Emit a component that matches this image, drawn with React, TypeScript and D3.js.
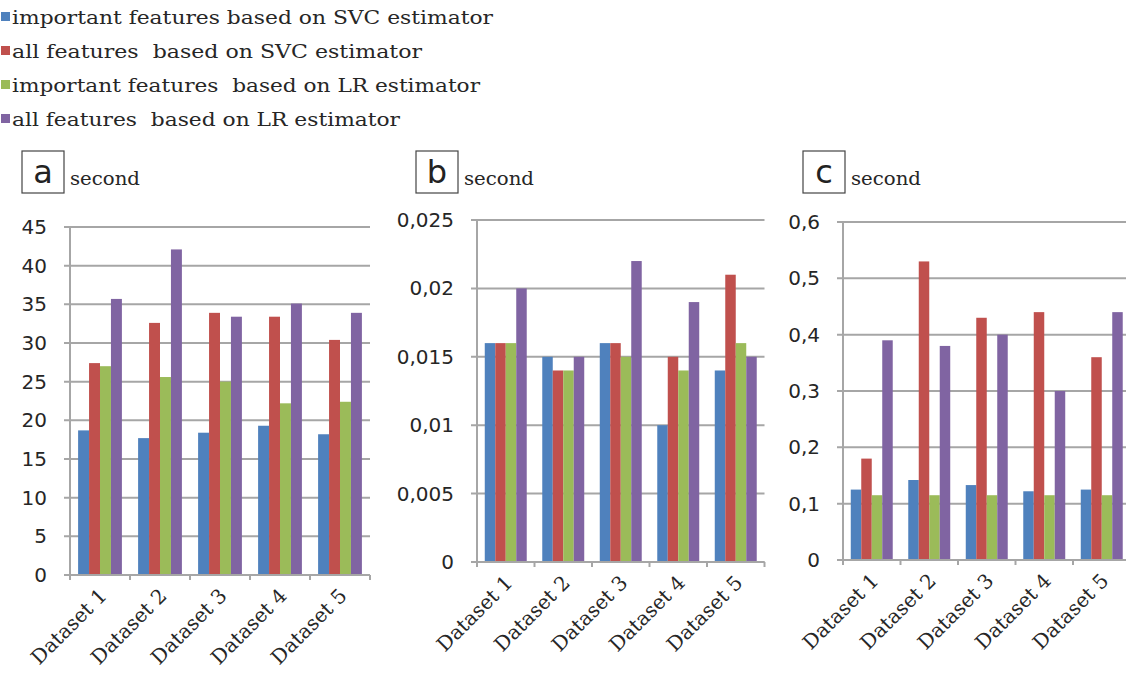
import React from "react";
import * as d3 from "d3";

const categories = ["Dataset 1", "Dataset 2", "Dataset 3", "Dataset 4", "Dataset 5"];
const seriesNames = [
  "important features based on SVC estimator",
  "all features  based on SVC estimator",
  "important features  based on LR estimator",
  "all features  based on LR estimator",
];
const seriesColors = ["#4F81BD", "#C0504D", "#9BBB59", "#8064A2"];

// Panel a
const aImportantSVC = [18.7, 17.7, 18.4, 19.3, 18.2];
const aAllSVC = [27.4, 32.6, 33.9, 33.4, 30.4];
const aImportantLR = [27.0, 25.6, 25.0, 22.2, 22.4];
const aAllLR = [35.7, 42.1, 33.4, 35.1, 33.9];
const aTicks = [0, 5, 10, 15, 20, 25, 30, 35, 40, 45];
const aTickLabels = ["0", "5", "10", "15", "20", "25", "30", "35", "40", "45"];

// Panel b
const bImportantSVC = [0.016, 0.015, 0.016, 0.01, 0.014];
const bAllSVC = [0.016, 0.014, 0.016, 0.015, 0.021];
const bImportantLR = [0.016, 0.014, 0.015, 0.014, 0.016];
const bAllLR = [0.02, 0.015, 0.022, 0.019, 0.015];
const bTicks = [0, 0.005, 0.01, 0.015, 0.02, 0.025];
const bTickLabels = ["0", "0,005", "0,01", "0,015", "0,02", "0,025"];

// Panel c
const cImportantSVC = [0.125, 0.142, 0.133, 0.122, 0.125];
const cAllSVC = [0.18, 0.53, 0.43, 0.44, 0.36];
const cImportantLR = [0.115, 0.115, 0.115, 0.115, 0.115];
const cAllLR = [0.39, 0.38, 0.4, 0.3, 0.44];
const cTicks = [0, 0.1, 0.2, 0.3, 0.4, 0.5, 0.6];
const cTickLabels = ["0", "0,1", "0,2", "0,3", "0,4", "0,5", "0,6"];

const panels = [
  { letter: "a", series: [aImportantSVC, aAllSVC, aImportantLR, aAllLR], ticks: aTicks, labels: aTickLabels,
    x0: 70, x1: 370, yTop: 227, yBot: 575, box: [22, 151] },
  { letter: "b", series: [bImportantSVC, bAllSVC, bImportantLR, bAllLR], ticks: bTicks, labels: bTickLabels,
    x0: 477, x1: 764.5, yTop: 220, yBot: 562, box: [416, 151] },
  { letter: "c", series: [cImportantSVC, cAllSVC, cImportantLR, cAllLR], ticks: cTicks, labels: cTickLabels,
    x0: 843, x1: 1130.5, yTop: 222, yBot: 560, box: [803, 151] },
];

const SERIF = "'DejaVu Serif', 'Liberation Serif', serif";
const SANS = "'DejaVu Sans', 'Open Sans', sans-serif";
const GRID = "#a6a6a6";
const TXT = "#262626";

function Panel({ p }: { p: any }) {
  const x = d3.scaleBand<string>().domain(categories).range([p.x0, p.x1]).paddingInner(0.27).paddingOuter(0.135);
  const inner = d3.scaleBand<number>().domain([0, 1, 2, 3]).range([0, x.bandwidth()]);
  const y = d3.scaleLinear().domain([0, p.ticks[p.ticks.length - 1]]).range([p.yBot, p.yTop]);
  const step = x.step();
  const bounds = d3.range(categories.length + 1).map((i) => p.x0 + i * step);
  return (
    <g>
      {p.ticks.map((t: number, i: number) => (
        <g key={"g" + i}>
          <line x1={p.x0 - 6} x2={p.x1} y1={y(t)} y2={y(t)} stroke={GRID} strokeWidth={2} />
          <text x={p.x0 - 23} y={y(t)} dy="0.35em" textAnchor="end" fontFamily={SANS} fontSize={20} fill={TXT}>
            {p.labels[i]}
          </text>
        </g>
      ))}
      {p.series.map((vals: number[], si: number) =>
        vals.map((v: number, ci: number) => (
          <rect
            key={si + "-" + ci}
            x={(x(categories[ci]) as number) + (inner(si) as number)}
            y={y(v)}
            width={inner.bandwidth()}
            height={p.yBot - y(v)}
            fill={seriesColors[si]}
          />
        ))
      )}
      <line x1={p.x0} x2={p.x0} y1={p.yTop} y2={p.yBot} stroke={GRID} strokeWidth={2} />
      <line x1={p.x0} x2={p.x1} y1={p.yBot} y2={p.yBot} stroke={GRID} strokeWidth={2} />
      {bounds.map((bx: number, i: number) => (
        <line key={"t" + i} x1={bx} x2={bx} y1={p.yBot} y2={p.yBot + 5} stroke={GRID} strokeWidth={2} />
      ))}
      {categories.map((c: string) => {
        const cx = (x(c) as number) + x.bandwidth() / 2;
        return (
          <text key={c} transform={`translate(${cx + 8},${p.yBot + 22}) rotate(-45)`} textAnchor="end"
            fontFamily={SERIF} fontSize={20} fill={TXT}>
            {c}
          </text>
        );
      })}
      <rect x={p.box[0]} y={p.box[1]} width={42} height={42} fill="none" stroke="#444" strokeWidth={1.2} />
      <text x={p.box[0] + 21} y={p.box[1] + 32} textAnchor="middle" fontFamily={SANS} fontSize={32} fill="#222">
        {p.letter}
      </text>
      <text x={p.box[0] + 48} y={p.box[1] + 34} fontFamily={SERIF} fontSize={18} fill={TXT}
        textLength={70} lengthAdjust="spacingAndGlyphs">
        second
      </text>
    </g>
  );
}

export default function App() {
  const legendY = [17, 51, 85, 119];
  const legendW = [481, 410, 468, 388];
  return (
    <div style={{ position: "absolute", left: 0, top: 0 }}>
      <svg width={1126} height={679} style={{ display: "block", background: "#fff" }}>
        <rect width={1126} height={679} fill="#fff" />
        {seriesNames.map((n, i) => (
          <g key={n}>
            <rect x={1} y={legendY[i] - 5} width={9} height={9} fill={seriesColors[i]} />
            <text x={12} y={legendY[i]} dy="0.35em" fontFamily={SERIF} fontSize={19} fill={TXT}
              textLength={legendW[i]} lengthAdjust="spacingAndGlyphs" style={{ whiteSpace: "pre" }}>
              {n}
            </text>
          </g>
        ))}
        {panels.map((p) => (
          <Panel key={p.letter} p={p} />
        ))}
      </svg>
    </div>
  );
}
